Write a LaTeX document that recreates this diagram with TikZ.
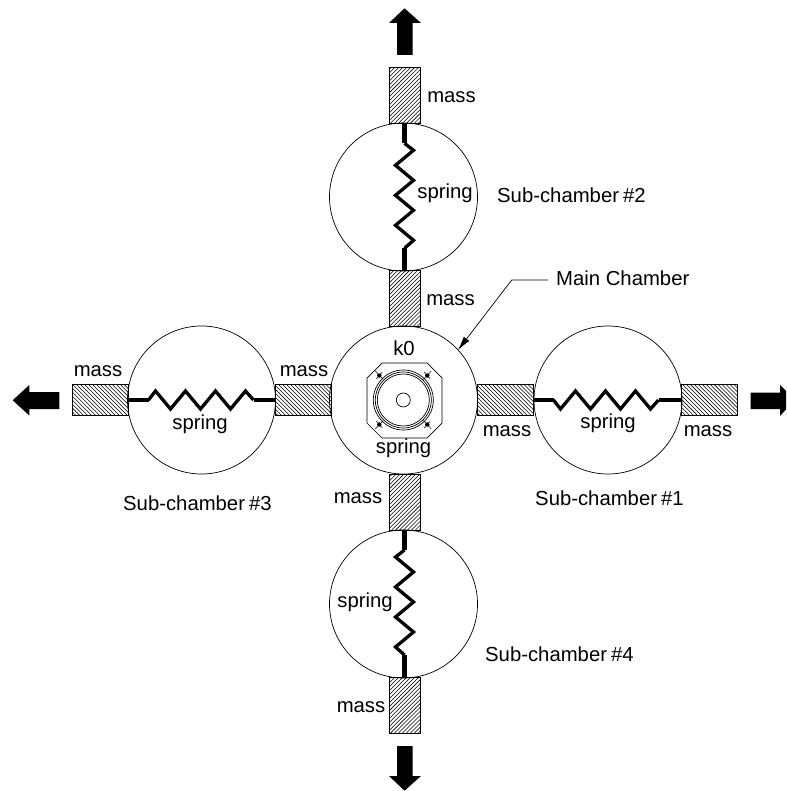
\documentclass[tikz,border=0pt]{standalone}
\usepackage{fontspec}
\setmainfont{Liberation Sans}
\usetikzlibrary{patterns.meta,arrows.meta}
\tikzset{
  x=1pt,y=-1pt,
  chamber/.style={circle,draw,line width=0.7pt,minimum size=148pt,inner sep=0pt,outer sep=0pt},
  vmass/.style={draw,line width=0.9pt,pattern={Lines[angle=45,distance=2.8pt,line width=0.55pt]},minimum width=31pt,minimum height=56pt,inner sep=0pt,outer sep=0pt},
  hmass/.style={draw,line width=0.9pt,pattern={Lines[angle=-45,distance=2.8pt,line width=0.55pt]},minimum width=56pt,minimum height=31pt,inner sep=0pt,outer sep=0pt},
  lab/.style={font=\fontsize{20.3}{20}\selectfont,inner sep=0pt,anchor=base},
  subl/.style={lab,anchor=base west},
  coil/.style={line width=3.3pt,line join=miter},
  leadwire/.style={line width=4.5pt},
  force/.style={fill=black,draw=none},
  valve/.style={line width=0.7pt}
}
% #1 start anchor, #2 end anchor, #3 rotation, #4 side of first peak
\newcommand{\Coil}[4]{%
  \begin{scope}[shift={(#1)},rotate=#3]
    \coordinate (ca) at (20,0);
    \coordinate (cb) at (125,0);
    \draw[coil] (ca) -- (27,#4*9) -- (42,-#4*9) -- (57,#4*9) -- (72,-#4*9)
      -- (87,#4*9) -- (102,-#4*9) -- (117,#4*9) -- (cb);
  \end{scope}
  \draw[leadwire] (#1) -- (ca);
  \draw[leadwire] (cb) -- (#2);
}
\begin{document}
\begin{tikzpicture}
\useasboundingbox (0,0) rectangle (786,791);
% chambers
\node[chamber] (main) at (403.5,400) {};
\node[chamber] (sub2) at (403.5,197) {};
\node[chamber] (sub3) at (201.5,400) {};
\node[chamber] (sub1) at (608,400) {};
\node[chamber] (sub4) at (403.5,604) {};
% masses
\node[vmass] (mT) at (404.5,95.3) {};
\node[vmass] (mTi) at (404.5,298.7) {};
\node[vmass] (mBi) at (404.5,502) {};
\node[vmass] (mB) at (404.5,705.3) {};
\node[hmass] (mL) at (100.5,400) {};
\node[hmass] (mLi) at (303,400) {};
\node[hmass] (mRi) at (505.5,400) {};
\node[hmass] (mR) at (709.5,400) {};
% springs
\Coil{mT.south}{mTi.north}{-90}{-1}
\Coil{mBi.south}{mB.north}{-90}{1}
\Coil{mL.east}{mLi.west}{0}{-1}
\Coil{mRi.east}{mR.west}{0}{1}
% force arrows
\fill[force] (404.5,8.3) -- (421,23) -- (412.7,23) -- (412.7,55) -- (397,55) -- (397,23) -- (389,23) -- cycle;
\fill[force] (404.5,790.7) -- (389,776) -- (397,776) -- (397,746) -- (412.7,746) -- (412.7,776) -- (421,776) -- cycle;
\fill[force] (12.7,400.3) -- (29.3,385) -- (29.3,392) -- (59.3,392) -- (59.3,409) -- (29.3,409) -- (29.3,415.5) -- cycle;
\fill[force] (750.7,392.5) -- (780,392.5) -- (780,385) -- (786,391) -- (786,409.5) -- (780,416) -- (780,409) -- (750.7,409) -- cycle;
% valve in the main chamber
\draw[valve] (382,363) -- (427,363) -- (442,378) -- (442,423) -- (427,438) -- (382,438) -- (367,423) -- (367,378) -- cycle;
\draw[valve] (403.3,400) circle[radius=30];
\draw[valve] (403.3,400) circle[radius=28];
\draw[valve] (403.3,400) circle[radius=26];
\draw[valve] (403.3,400) circle[radius=7];
\foreach \dx/\dy in {-1/-1,1/-1,-1/1,1/1}{
  \fill (403.3+\dx*24,400+\dy*24.5) circle[radius=2.2];
  \draw[line width=0.5pt] (403.3+\dx*20,400+\dy*20.5) -- (403.3+\dx*28,400+\dy*29);
  \draw[line width=0.5pt] (403.3+\dx*21,400+\dy*28) -- (403.3+\dx*27,400+\dy*21);
}
% labels
\node[lab] (t1) at (451.5,102.7) {mass};
\node[lab] (t2) at (450.5,305) {mass};
\node[lab] (t3) at (98,376) {mass};
\node[lab] (t4) at (304,376) {mass};
\node[lab] (t5) at (507,436.5) {mass};
\node[lab] (t6) at (708,436) {mass};
\node[lab] (t7) at (358,503) {mass};
\node[lab] (t8) at (361,712) {mass};
\node[lab] (s1) at (445,199) {spring};
\node[lab] (s2) at (200,429) {spring};
\node[lab] (s3) at (608,428) {spring};
\node[lab] (s4) at (365,607) {spring};
\node[lab] (s5) at (403.5,453) {spring};
\node[lab] (k) at (404,355) {k0};
\node[subl] (c2) at (497,203) {Sub-chamber\hspace{.2em}\#2};
\node[subl] (c3) at (123,510) {Sub-chamber\hspace{.2em}\#3};
\node[subl] (c1) at (535,505) {Sub-chamber\hspace{.2em}\#1};
\node[subl] (c4) at (485,661.5) {Sub-chamber\hspace{.2em}\#4};
\node[subl] (mc) at (556,285.7) {Main Chamber};
% leader
\coordinate (lstart) at (548,280);
\coordinate (bend) at (511.7,280);
\coordinate (tip) at (458,350);
\draw[line width=0.7pt,-{Latex[length=14pt,width=7pt]}] (lstart) -- (bend) -- (tip);
\end{tikzpicture}
\end{document}
